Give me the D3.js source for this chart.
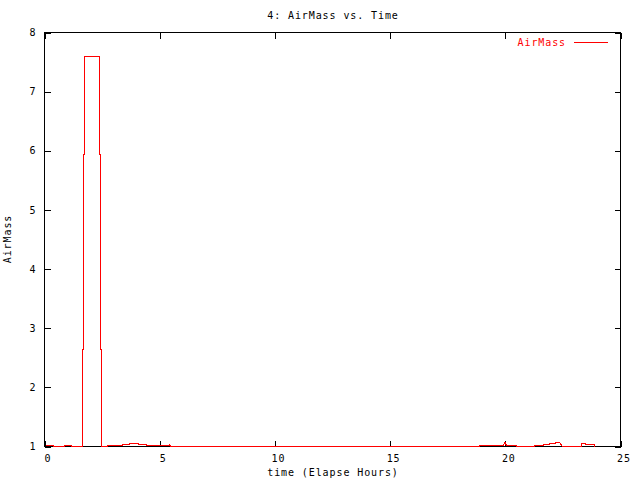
<!DOCTYPE html>
<html>
<head>
<meta charset="utf-8">
<script src="https://cdn.jsdelivr.net/npm/d3@7"></script>
<style>
  html, body { margin: 0; padding: 0; background: #fff; }
  svg { display: block; }
  text { font-family: "DejaVu Sans Mono", "Liberation Mono", monospace; font-size: 10px; letter-spacing: 0.9px; }
</style>
</head>
<body>
<svg id="chart" width="640" height="480"></svg>
<script>
// ---- data ----
const title = "4: AirMass vs. Time";
const xLabel = "time (Elapse Hours)";
const yLabel = "AirMass";
const seriesName = "AirMass";
const xTicks = [0, 5, 10, 15, 20, 25];
const yTicks = [1, 2, 3, 4, 5, 6, 7, 8];
const time = [
  0.05, 0.37, 0.38, 0.85, 0.87, 1.15, 1.17, 1.64, 1.64, 1.684, 1.684, 1.727, 1.727,
  2.378, 2.378, 2.422, 2.422, 2.465, 2.465, 2.73, 2.73, 3.39, 3.39, 3.67, 3.67,
  4.10, 4.10, 4.41, 4.41, 5.37, 5.42, 5.48, 18.86, 18.86, 19.90, 19.99, 20.05,
  20.49, 20.49, 21.25, 21.25, 21.65, 21.65, 21.93, 21.93, 22.16, 22.16, 22.37,
  22.47, 23.32, 23.32, 23.49, 23.49, 23.86, 23.89
];
const airmass = [
  1.017, 1.017, 1.0, 1.0, 1.017, 1.017, 1.0, 1.0, 2.64, 2.64, 5.94, 5.94, 7.59,
  7.59, 5.94, 5.94, 2.64, 2.64, 1.0, 1.0, 1.017, 1.017, 1.034, 1.034, 1.05,
  1.05, 1.034, 1.034, 1.017, 1.017, 1.034, 1.0, 1.0, 1.017, 1.017, 1.068, 1.017,
  1.017, 1.0, 1.0, 1.017, 1.017, 1.034, 1.034, 1.05, 1.05, 1.068, 1.068,
  1.0, 1.0, 1.05, 1.05, 1.034, 1.034, 1.0
];

// ---- layout ----
const L = 44, R = 620, T = 32, B = 446;
const svg = d3.select("#chart");
const g = svg.append("g").attr("transform", "translate(0.5,0.5)");

const x = d3.scaleLinear().domain([0, 25]).range([L, R]);
const y = d3.scaleLinear().domain([1, 8]).range([B, T]);

// frame
g.append("rect")
  .attr("x", L).attr("y", T).attr("width", R - L).attr("height", B - T)
  .attr("fill", "none").attr("stroke", "#000").attr("shape-rendering", "crispEdges");

function styleAxis(sel, showLabels) {
  sel.select(".domain").remove();
  sel.selectAll(".tick line").attr("stroke", "#000").attr("shape-rendering", "crispEdges");
  sel.selectAll(".tick text").attr("fill", "#000").attr("font-size", null).attr("font-family", null);
  if (!showLabels) sel.selectAll(".tick text").remove();
}

// bottom
const axB = g.append("g").attr("transform", `translate(0,${B})`)
  .call(d3.axisBottom(x).tickValues(xTicks).tickSizeInner(-6).tickSizeOuter(0).tickPadding(8).tickFormat(d3.format("d")));
styleAxis(axB, true);
axB.selectAll(".tick text").attr("dx", 3);
// top (mirror)
const axT = g.append("g").attr("transform", `translate(0,${T})`)
  .call(d3.axisTop(x).tickValues(xTicks).tickSizeInner(-6).tickSizeOuter(0));
styleAxis(axT, false);
// left
const axL = g.append("g").attr("transform", `translate(${L},0)`)
  .call(d3.axisLeft(y).tickValues(yTicks).tickSizeInner(-6).tickSizeOuter(0).tickPadding(8).tickFormat(d3.format("d")));
styleAxis(axL, true);
// right (mirror)
const axR = g.append("g").attr("transform", `translate(${R},0)`)
  .call(d3.axisRight(y).tickValues(yTicks).tickSizeInner(-6).tickSizeOuter(0));
styleAxis(axR, false);

// series
const pts = time.map((t, i) => [t, airmass[i]]);
g.append("path")
  .datum(pts)
  .attr("fill", "none")
  .attr("stroke", "#ff0000")
  .attr("stroke-width", 1)
  .attr("shape-rendering", "crispEdges")
  .attr("d", d3.line().x(d => x(d[0])).y(d => y(d[1])));

// title & labels
svg.append("text").attr("x", 333).attr("y", 19).attr("text-anchor", "middle").attr("fill", "#000").text(title);
svg.append("text").attr("x", 333).attr("y", 476).attr("text-anchor", "middle").attr("fill", "#000").text(xLabel);
svg.append("text").attr("transform", "translate(11,239) rotate(-90)").attr("text-anchor", "middle").attr("fill", "#000").text(yLabel);

// legend
svg.append("text").attr("x", 566).attr("y", 46).attr("text-anchor", "end").attr("fill", "#ff0000").text(seriesName);
g.append("line").attr("x1", 573).attr("x2", 607).attr("y1", 42).attr("y2", 42)
  .attr("stroke", "#ff0000").attr("stroke-width", 1).attr("shape-rendering", "crispEdges");
</script>
</body>
</html>
